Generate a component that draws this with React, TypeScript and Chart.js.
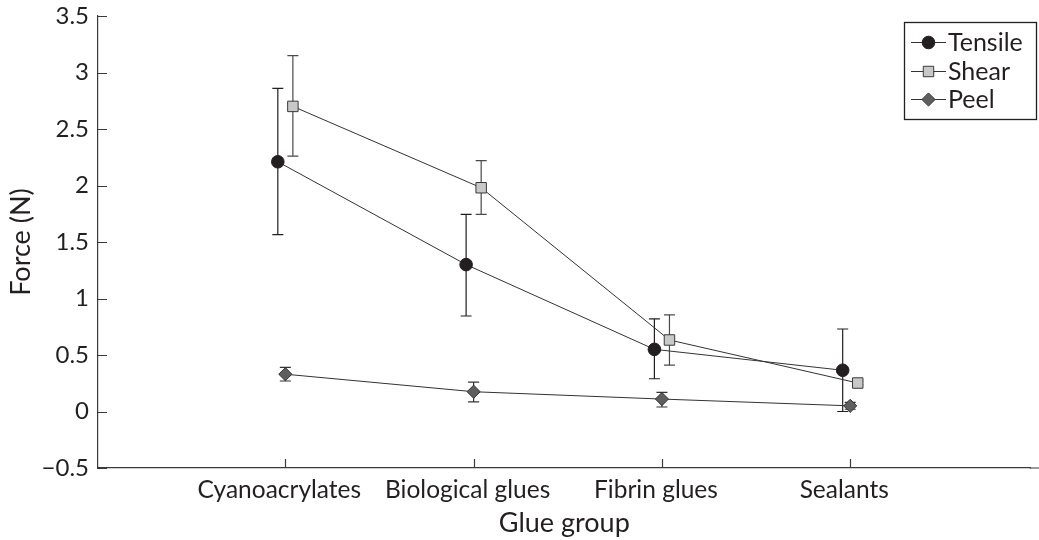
import React, { useEffect, useRef } from "react";
import { Chart, registerables } from "chart.js";

Chart.register(...registerables);

// ---------- data ----------
const categories = ["Cyanoacrylates", "Biological glues", "Fibrin glues", "Sealants"];
const categoryPositions = [1, 2, 3, 4];
const seriesNames = ["Tensile", "Shear", "Peel"];
const seriesOffsets = [-0.04, 0.04, 0];

const tensileMean = [2.21, 1.3, 0.55, 0.365];
const tensileLow = [1.565, 0.845, 0.29, 0.0];
const tensileHigh = [2.86, 1.745, 0.82, 0.73];

const shearMean = [2.7, 1.98, 0.633, 0.252];
const shearLow = [2.26, 1.745, 0.41, 0.235];
const shearHigh = [3.15, 2.22, 0.855, 0.27];

const peelMean = [0.33, 0.175, 0.11, 0.05];
const peelLow = [0.27, 0.085, 0.04, 0.02];
const peelHigh = [0.39, 0.26, 0.17, 0.08];

const yTickValues = [-0.5, 0, 0.5, 1, 1.5, 2, 2.5, 3, 3.5];
const yTickLabels = ["\u22120.5", "0", "0.5", "1", "1.5", "2", "2.5", "3", "3.5"];

const xTitle = "Glue group";
const yTitle = "Force (N)";

// ---------- styles ----------
const FONT = "Lato";
const INK = "#231f20";
const markerStyles = [
  { pointStyle: "circle", radius: 6.3, fill: "#231f20", stroke: "#231f20", bar: "#231f20" },
  { pointStyle: "rect", radius: 7.4, fill: "#c8c8c8", stroke: "#3a3a3a", bar: "#4a4a4a" },
  { pointStyle: "rectRot", radius: 6.6, fill: "#5e5e5e", stroke: "#333333", bar: "#333333" },
];

const means = [tensileMean, shearMean, peelMean];
const lows = [tensileLow, shearLow, peelLow];
const highs = [tensileHigh, shearHigh, peelHigh];

const errorBarPlugin = {
  id: "errorBars",
  beforeDatasetsDraw(chart: any) {
    const ctx = chart.ctx;
    const xs = chart.scales.x;
    const ys = chart.scales.y;
    ctx.save();
    ctx.lineWidth = 1.2;
    means.forEach((_m, si) => {
      ctx.strokeStyle = markerStyles[si].bar;
      categoryPositions.forEach((p, ci) => {
        const x = xs.getPixelForValue(p + seriesOffsets[si]);
        const y1 = ys.getPixelForValue(lows[si][ci]);
        const y2 = ys.getPixelForValue(highs[si][ci]);
        const cap = 5.5;
        ctx.beginPath();
        ctx.moveTo(x, y1);
        ctx.lineTo(x, y2);
        ctx.moveTo(x - cap, y1);
        ctx.lineTo(x + cap, y1);
        ctx.moveTo(x - cap, y2);
        ctx.lineTo(x + cap, y2);
        ctx.stroke();
      });
    });
    ctx.restore();
  },
};

function drawMarker(ctx: CanvasRenderingContext2D, style: string, x: number, y: number, r: number, fill: string, stroke: string) {
  ctx.beginPath();
  if (style === "circle") {
    ctx.arc(x, y, r, 0, Math.PI * 2);
  } else if (style === "rect") {
    const s = Math.SQRT1_2 * r;
    ctx.rect(x - s, y - s, 2 * s, 2 * s);
  } else {
    ctx.moveTo(x, y - r);
    ctx.lineTo(x + r, y);
    ctx.lineTo(x, y + r);
    ctx.lineTo(x - r, y);
    ctx.closePath();
  }
  ctx.fillStyle = fill;
  ctx.fill();
  ctx.lineWidth = 1;
  ctx.strokeStyle = stroke;
  ctx.stroke();
}

const axisDecorPlugin = {
  id: "axisDecor",
  afterDraw(chart: any) {
    const ctx = chart.ctx;
    const xs = chart.scales.x;
    const ys = chart.scales.y;
    const area = chart.chartArea;
    ctx.save();
    ctx.strokeStyle = "#3a3a3a";
    ctx.lineWidth = 1.2;
    ctx.beginPath();
    yTickValues.forEach((v) => {
      const y = Math.round(ys.getPixelForValue(v)) + 0.5;
      ctx.moveTo(area.left, y);
      ctx.lineTo(area.left + 9, y);
    });
    categoryPositions.forEach((p) => {
      const x = Math.round(xs.getPixelForValue(p)) + 0.5;
      ctx.moveTo(x, area.bottom);
      ctx.lineTo(x, area.bottom - 9);
    });
    // x axis continues to the right edge of the picture
    ctx.moveTo(area.right - 1, area.bottom);
    ctx.lineTo(chart.width, area.bottom);
    ctx.stroke();

    // legend
    const bx = 904, by = 22, bw = 132, bh = 97;
    ctx.fillStyle = "#ffffff";
    ctx.fillRect(bx, by, bw, bh);
    ctx.strokeStyle = INK;
    ctx.lineWidth = 1.3;
    ctx.strokeRect(bx + 0.5, by + 0.5, bw, bh);
    const rows = [42, 71, 99];
    seriesNames.forEach((name, i) => {
      const y = rows[i];
      const ms = markerStyles[i];
      ctx.strokeStyle = "#333333";
      ctx.lineWidth = 1;
      ctx.beginPath();
      ctx.moveTo(911, y + 0.5);
      ctx.lineTo(946, y + 0.5);
      ctx.stroke();
      drawMarker(ctx, ms.pointStyle, 928.5, y + 0.5, ms.radius, ms.fill, ms.stroke);
      ctx.fillStyle = INK;
      ctx.font = `25px ${FONT}`;
      ctx.textBaseline = "middle";
      ctx.textAlign = "left";
      ctx.fillText(name, 948, y + 1);
    });
    ctx.restore();
  },
};

export default function App() {
  const canvasRef = useRef<HTMLCanvasElement | null>(null);

  useEffect(() => {
    const canvas = canvasRef.current;
    if (!canvas) return;
    const datasets = seriesNames.map((name, si) => ({
      label: name,
      data: categoryPositions.map((p, ci) => ({ x: p + seriesOffsets[si], y: means[si][ci] })),
      showLine: true,
      borderColor: "#333333",
      borderWidth: 1,
      pointStyle: markerStyles[si].pointStyle as any,
      pointRadius: markerStyles[si].radius,
      pointBackgroundColor: markerStyles[si].fill,
      pointBorderColor: markerStyles[si].stroke,
      pointBorderWidth: 1,
      pointHoverRadius: markerStyles[si].radius,
      tension: 0,
    }));

    const chart = new Chart(canvas, {
      type: "scatter",
      data: { datasets },
      options: {
        animation: false,
        responsive: false,
        maintainAspectRatio: false,
        events: [],
        layout: { padding: { top: 16, right: 0, left: 0, bottom: 0 } },
        plugins: {
          legend: { display: false },
          tooltip: { enabled: false },
        },
        scales: {
          x: {
            type: "linear",
            min: 0.005,
            max: 4.958,
            afterBuildTicks: (scale: any) => {
              scale.ticks = categoryPositions.map((v) => ({ value: v }));
            },
            afterFit: (scale: any) => {
              scale.height = 72;
              scale.paddingLeft = 0;
              scale.paddingRight = 0;
            },
            grid: { display: false, drawTicks: false },
            border: { display: true, color: "#3a3a3a", width: 1.2 },
            ticks: {
              autoSkip: false,
              maxRotation: 0,
              padding: 7,
              labelOffset: -6,
              color: INK,
              font: { family: FONT, size: 24.5 },
              callback: (v: any) => {
                const i = categoryPositions.indexOf(Number(v));
                return i >= 0 ? categories[i] : "";
              },
            },
            title: {
              display: true,
              text: xTitle,
              color: INK,
              font: { family: FONT, size: 27 },
              padding: { top: 0, bottom: 1 },
            },
          },
          y: {
            type: "linear",
            min: -0.5,
            max: 3.5,
            afterBuildTicks: (scale: any) => {
              scale.ticks = yTickValues.map((v) => ({ value: v }));
            },
            afterFit: (scale: any) => {
              scale.width = 98;
              scale.paddingTop = 0;
              scale.paddingBottom = 0;
            },
            grid: { display: false, drawTicks: false },
            border: { display: true, color: "#3a3a3a", width: 1.2 },
            ticks: {
              autoSkip: false,
              padding: 9,
              color: INK,
              font: { family: FONT, size: 24 },
              callback: (v: any) => {
                const i = yTickValues.indexOf(Number(v));
                return i >= 0 ? yTickLabels[i] : "";
              },
            },
            title: {
              display: true,
              text: yTitle,
              color: INK,
              font: { family: FONT, size: 27 },
              padding: { top: 5, bottom: 0 },
            },
          },
        },
      },
      plugins: [errorBarPlugin, axisDecorPlugin],
    });
    return () => chart.destroy();
  }, []);

  return (
    <div style={{ position: "absolute", left: 0, top: 0, width: 1039, height: 540, background: "#fff" }}>
      <canvas ref={canvasRef} width={1039} height={540} />
    </div>
  );
}
